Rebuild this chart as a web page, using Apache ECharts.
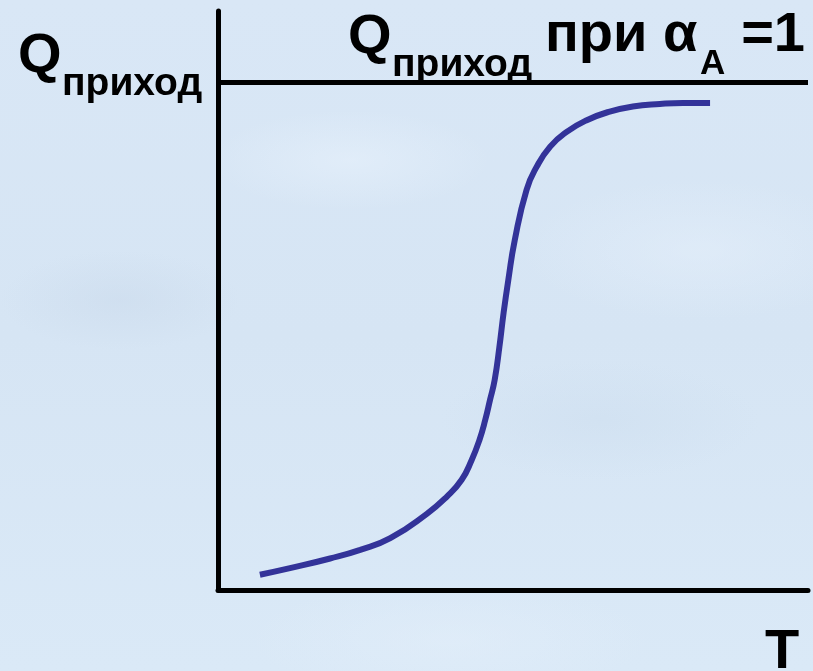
<!DOCTYPE html>
<html>
<head>
<meta charset="utf-8">
<style>
  html, body { margin: 0; padding: 0; }
  body {
    width: 813px; height: 671px; overflow: hidden;
    background:
      radial-gradient(ellipse 120px 50px at 120px 300px, rgba(200,216,234,0.45), rgba(200,216,234,0) 100%),
      radial-gradient(ellipse 160px 60px at 600px 420px, rgba(200,218,236,0.35), rgba(200,218,236,0) 100%),
      radial-gradient(ellipse 140px 50px at 350px 160px, rgba(232,242,252,0.55), rgba(232,242,252,0) 100%),
      radial-gradient(ellipse 180px 70px at 700px 250px, rgba(230,240,251,0.5), rgba(230,240,251,0) 100%),
      radial-gradient(ellipse 200px 60px at 450px 640px, rgba(228,239,250,0.5), rgba(228,239,250,0) 100%),
      linear-gradient(180deg, #d9e7f6 0%, #d6e5f4 50%, #dae9f7 100%);
  }
  #chart { width: 813px; height: 671px; }
</style>
<script src="https://cdn.jsdelivr.net/npm/echarts@6/dist/echarts.min.js"></script>
</head>
<body>
<div id="chart"></div>
<script>
// Temperature T (relative units) and heat input Q (relative to Q at alpha_A = 1)
const T = [0.71, 1.22, 1.90, 2.41, 2.92, 3.54, 3.88, 4.13, 4.30, 4.43, 4.53, 4.61, 4.69, 4.77, 4.84, 4.92, 5.03, 5.23, 5.40, 5.63, 5.91, 6.25, 6.64, 7.03, 7.49, 7.88, 8.34];
const Q = [0.030, 0.043, 0.062, 0.079, 0.102, 0.150, 0.184, 0.217, 0.256, 0.295, 0.335, 0.374, 0.414, 0.479, 0.545, 0.610, 0.689, 0.788, 0.833, 0.873, 0.902, 0.925, 0.942, 0.952, 0.957, 0.959, 0.959];
const Q_LEVEL = 1.0;

const FONT = '"Liberation Sans", Arial, sans-serif';
const chart = echarts.init(document.getElementById('chart'), null, { renderer: 'canvas' });

function txt(text, x, y, size, align) {
  return {
    type: 'text', x: x, y: y, silent: true,
    style: {
      text: text, fill: '#000',
      font: 'bold ' + size + 'px ' + FONT,
      align: align || 'left', verticalAlign: 'top'
    }
  };
}

chart.setOption({
  backgroundColor: 'transparent',
  animation: false,
  grid: { left: 218, right: 5, top: 11, bottom: 81 },
  xAxis: {
    type: 'value', min: 0, max: 10,
    axisLine: { show: true, onZero: false, lineStyle: { color: '#000', width: 5 } },
    axisTick: { show: false }, axisLabel: { show: false }, splitLine: { show: false }
  },
  yAxis: {
    type: 'value', min: 0, max: 1.14,
    axisLine: { show: true, onZero: false, lineStyle: { color: '#000', width: 5 } },
    axisTick: { show: false }, axisLabel: { show: false }, splitLine: { show: false }
  },
  series: [{
    type: 'line',
    data: T.map((t, i) => [t, Q[i]]),
    smooth: 0.5,
    symbol: 'none',
    lineStyle: { color: '#333399', width: 6, cap: 'butt' },
    markLine: {
      silent: true, symbol: 'none', label: { show: false },
      lineStyle: { color: '#000', width: 5, type: 'solid' },
      data: [{ yAxis: Q_LEVEL }]
    }
  }],
  graphic: [
    txt('Q', 18, 29, 56),
    txt('приход', 62, 65, 39),
    txt('Q', 348, 10, 56),
    txt('приход', 392, 46, 39),
    txt('при α', 545, 8, 56),
    txt('A', 700, 47, 35),
    txt('=1', 805, 8, 56, 'right'),
    txt('T', 765, 625, 56)
  ]
});
</script>
</body>
</html>
